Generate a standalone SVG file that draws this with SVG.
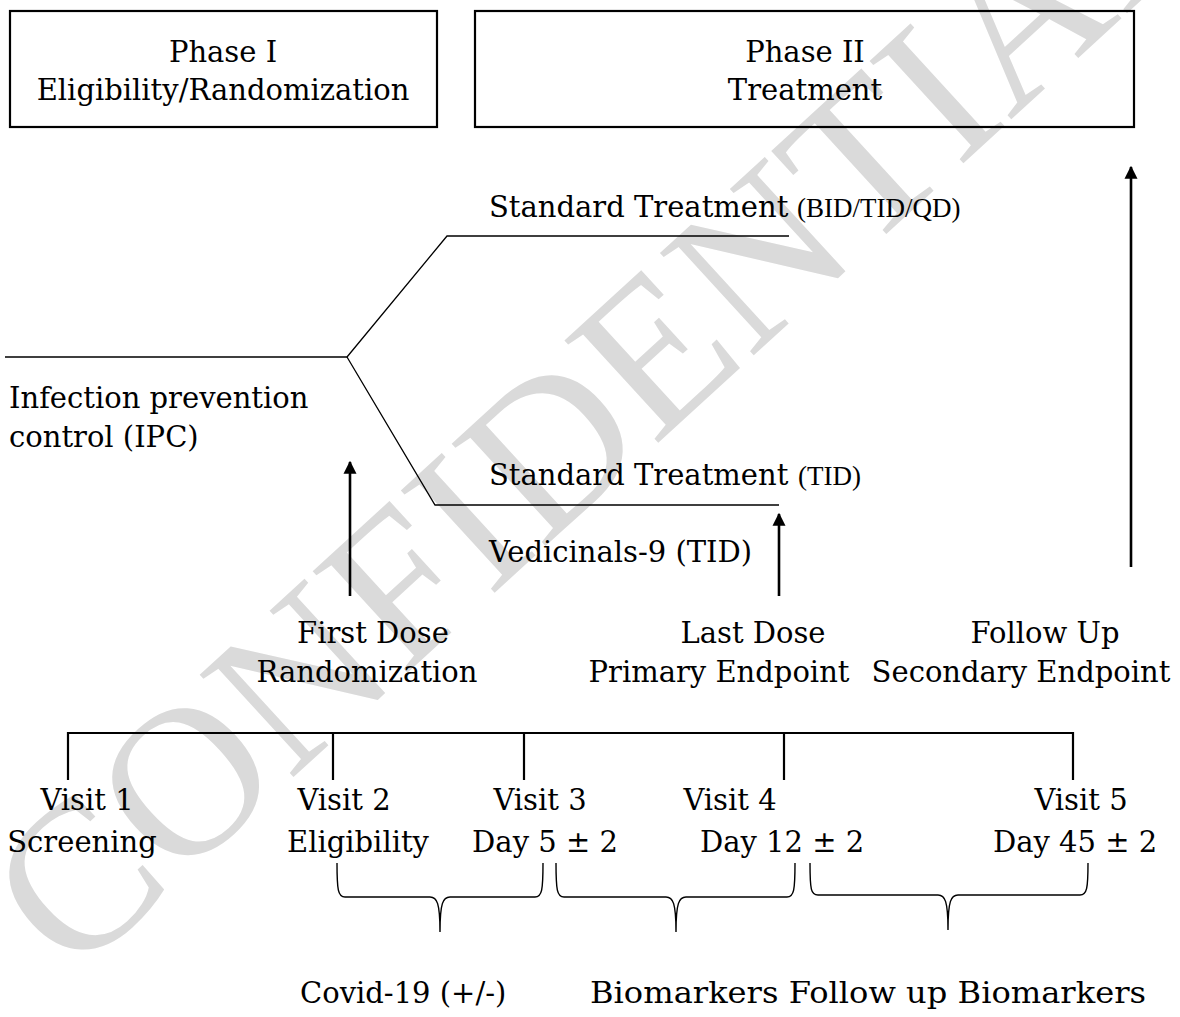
<svg xmlns="http://www.w3.org/2000/svg" width="1180" height="1017" viewBox="0 0 1180 1017">
  <defs>
    <style>
      .t { font-family: "DejaVu Serif", "Liberation Serif", serif; font-size: 29px; fill: #000; }
      .s { font-family: "Liberation Serif", "Times New Roman", serif; font-size: 27px; }
      .box { fill: none; stroke: #000; stroke-width: 2.2; }
      .ln { fill: none; stroke: #000; stroke-width: 1.3; }
      .tl { fill: none; stroke: #000; stroke-width: 2.2; }
      .arr { fill: none; stroke: #000; stroke-width: 2.6; marker-end: url(#ah); }
      .br { fill: none; stroke: #000; stroke-width: 1.4; }
      .wm { font-family: "Liberation Serif", serif; font-size: 212px; fill: #dadada; }
    </style>
    <marker id="ah" viewBox="0 0 10 10" refX="9" refY="5" markerWidth="5" markerHeight="7.5" markerUnits="strokeWidth" orient="auto">
      <path d="M0,0 L10,5 L0,10 z" fill="#000"/>
    </marker>
  </defs>
  <rect width="1180" height="1017" fill="#fff"/>
  <text class="wm" transform="translate(645,455) rotate(-42.5)" text-anchor="middle">CONFIDENTIAL</text>

  <g id="phase1">
    <rect class="box" x="10" y="11" width="427" height="116"/>
    <text class="t" x="223" y="62" text-anchor="middle">Phase I</text>
    <text class="t" x="223" y="100" text-anchor="middle">Eligibility/Randomization</text>
  </g>
  <g id="phase2">
    <rect class="box" x="475" y="11" width="659" height="116"/>
    <text class="t" x="805" y="62" text-anchor="middle">Phase II</text>
    <text class="t" x="805" y="100" text-anchor="middle">Treatment</text>
  </g>

  <g id="branches">
    <polyline class="ln" points="5,357 347,357 447,236 789,236"/>
    <polyline class="ln" points="347,357 435,505 779,505"/>
  </g>

  <g id="labels-arms">
    <text class="t" x="489" y="217">Standard Treatment <tspan class="s" x="797">(BID/TID/QD)</tspan></text>
    <text class="t" x="489" y="485">Standard Treatment <tspan class="s" x="798">(TID)</tspan></text>
    <text class="t" x="489" y="562">Vedicinals-9 (TID)</text>
    <text class="t" x="9" y="408">Infection prevention</text>
    <text class="t" x="9" y="447">control (IPC)</text>
  </g>

  <g id="connectors">
    <line class="arr" x1="350" y1="596" x2="350" y2="462"/>
    <line class="arr" x1="779" y1="596" x2="779" y2="514"/>
    <line class="arr" x1="1131" y1="567" x2="1131" y2="167"/>
  </g>

  <g id="milestones">
    <text class="t" x="373" y="643" text-anchor="middle">First Dose</text>
    <text class="t" x="367" y="682" text-anchor="middle">Randomization</text>
    <text class="t" x="753" y="643" text-anchor="middle">Last Dose</text>
    <text class="t" x="719" y="682" text-anchor="middle">Primary Endpoint</text>
    <text class="t" x="1045" y="643" text-anchor="middle">Follow Up</text>
    <text class="t" x="1021" y="682" text-anchor="middle">Secondary Endpoint</text>
  </g>

  <g id="timeline">
    <path class="tl" d="M68,780 V733 H1073 V780 M333,733 V780 M524,733 V780 M784,733 V780"/>
  </g>

  <g id="visits">
    <text class="t" x="87" y="810" text-anchor="middle">Visit 1</text>
    <text class="t" x="82" y="852" text-anchor="middle">Screening</text>
    <text class="t" x="344" y="810" text-anchor="middle">Visit 2</text>
    <text class="t" x="358" y="852" text-anchor="middle">Eligibility</text>
    <text class="t" x="540" y="810" text-anchor="middle">Visit 3</text>
    <text class="t" x="545" y="852" text-anchor="middle">Day 5 ± 2</text>
    <text class="t" x="730" y="810" text-anchor="middle">Visit 4</text>
    <text class="t" x="782" y="852" text-anchor="middle">Day 12 ± 2</text>
    <text class="t" x="1081" y="810" text-anchor="middle">Visit 5</text>
    <text class="t" x="1075" y="852" text-anchor="middle">Day 45 ± 2</text>
  </g>

  <g id="braces">
    <path class="br" d="M337,863 C337,890 338,897 345,897 L430,897 C437,897 440,903 440,932 C440,903 443,897 450,897 L535,897 C542,897 543,890 543,863"/>
    <path class="br" d="M556,863 C556,890 557,897 564,897 L666,897 C673,897 676,903 676,932 C676,903 679,897 686,897 L787,897 C794,897 795,890 795,863"/>
    <path class="br" d="M810,863 C810,890 811,895 818,895 L938,895 C945,895 948,901 948,930 C948,901 951,895 958,895 L1080,895 C1087,895 1088,888 1088,863"/>
  </g>

  <g id="outcomes">
    <text class="t" x="300" y="1003">Covid-19 (+/-)</text>
    <text class="t" x="590" y="1003" textLength="556" lengthAdjust="spacingAndGlyphs">Biomarkers Follow up Biomarkers</text>
  </g>
</svg>
